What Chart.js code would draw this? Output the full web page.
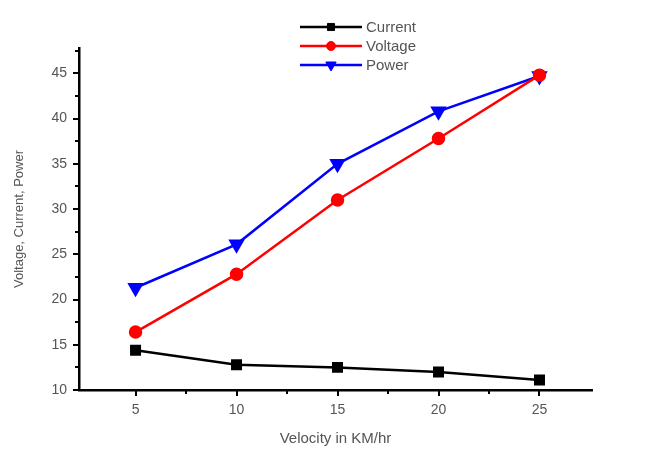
<!DOCTYPE html>
<html>
<head>
<meta charset="utf-8">
<script src="https://cdn.jsdelivr.net/npm/chart.js@4.4.0/dist/chart.umd.min.js"></script>
<style>
  html, body { margin: 0; padding: 0; background: #fff; }
  #wrap { width: 663px; height: 457px; }
</style>
</head>
<body>
<div id="wrap"><canvas id="chart" width="663" height="457"></canvas></div>
<script>
// values
var velocity = [5, 10, 15, 20, 25];
var current  = [14.4, 12.8, 12.5, 12.0, 11.1];
var voltage  = [16.4, 22.8, 31.0, 37.8, 44.8];
var power    = [21.3, 26.1, 35.0, 40.8, 44.7];

var xMajor = [5, 10, 15, 20, 25];
var xMinor = [7.5, 12.5, 17.5, 22.5];
var yMajor = [10, 15, 20, 25, 30, 35, 40, 45];
var yMinor = [12.5, 17.5, 22.5, 27.5, 32.5, 37.5, 42.5, 47.5];

var grey = '#555';
var fontFam = '"Liberation Sans", Arial, sans-serif';

function pts(arr){
	return velocity.map(function(v, i){ return { x: v, y: arr[i] }; });
}

// little tick marks, outward, major longer than minor
var tickMarks = {
	id: 'tickMarks',
	afterDraw: function(chart){
		var ctx = chart.ctx;
		var xs = chart.scales.x, ys = chart.scales.y;
		var area = chart.chartArea;
		ctx.save();
		ctx.strokeStyle = '#000';
		ctx.lineWidth = 2;
		ctx.beginPath();
		xMajor.forEach(function(v){
			var px = Math.round(xs.getPixelForValue(v));
			ctx.moveTo(px, area.bottom); ctx.lineTo(px, area.bottom + 6);
		});
		xMinor.forEach(function(v){
			var px = Math.round(xs.getPixelForValue(v));
			ctx.moveTo(px, area.bottom); ctx.lineTo(px, area.bottom + 4);
		});
		yMajor.forEach(function(v){
			var py = Math.round(ys.getPixelForValue(v));
			ctx.moveTo(area.left, py); ctx.lineTo(area.left - 6, py);
		});
		yMinor.forEach(function(v){
			var py = Math.round(ys.getPixelForValue(v));
			ctx.moveTo(area.left, py); ctx.lineTo(area.left - 4, py);
		});
		ctx.stroke();
		ctx.restore();
	}
};

// legend stacked in a column: line + marker, then the name
var columnLegend = {
	id: 'columnLegend',
	afterDraw: function(chart){
		var ctx = chart.ctx;
		ctx.save();
		chart.data.datasets.forEach(function(ds, i){
			var y = 27 + i * 19;
			var x0 = 300, x1 = 362, xm = 331;
			ctx.strokeStyle = ds.borderColor;
			ctx.fillStyle = ds.borderColor;
			ctx.lineWidth = 2.5;
			ctx.beginPath(); ctx.moveTo(x0, y); ctx.lineTo(x1, y); ctx.stroke();
			ctx.lineWidth = 1;
			Chart.helpers.drawPoint(ctx, {
				pointStyle: ds.pointStyle,
				radius: ds.pointRadius - 1,
				rotation: ds.pointRotation || 0,
				borderWidth: 1
			}, xm, y);
			ctx.fillStyle = grey;
			ctx.font = '15px ' + fontFam;
			ctx.textBaseline = 'middle';
			ctx.textAlign = 'left';
			ctx.fillText(ds.label, 366, y + 1);
		});
		ctx.restore();
	}
};

function ds(label, arr, color, style, radius, rot){
	return {
		label: label,
		data: pts(arr),
		borderColor: color,
		backgroundColor: color,
		pointBackgroundColor: color,
		pointBorderColor: color,
		borderWidth: 2.5,
		pointStyle: style,
		pointRadius: radius,
		pointRotation: rot || 0,
		pointHoverRadius: radius,
		tension: 0
	};
}

var chart_line_settings = {
	type: 'line',
	data: {
		datasets: [
			ds('Current', current, '#000000', 'rect', 6),
			ds('Voltage', voltage, '#ff0000', 'circle', 5.5),
			ds('Power',   power,   '#0000ff', 'triangle', 7, 180)
		]
	},
	options: {
		responsive: false,
		animation: false,
		layout: { padding: { top: 48, right: 71, left: 0, bottom: 0 } },
		plugins: {
			legend: { display: false },
			tooltip: { enabled: false }
		},
		scales: {
			x: {
				type: 'linear',
				min: 2.2,
				max: 27.6,
				afterBuildTicks: function(s){ s.ticks = xMajor.map(function(v){ return { value: v }; }); },
				afterFit: function(s){ s.height = 67; },
				grid: { display: false, drawTicks: false },
				border: { display: true, color: '#000', width: 2.5 },
				ticks: { color: grey, padding: 12, font: { size: 14, family: fontFam }, maxRotation: 0 },
				title: { display: true, text: 'Velocity in KM/hr', color: grey, padding: { top: 0, bottom: 9 }, font: { size: 15, family: fontFam } }
			},
			y: {
				type: 'linear',
				min: 10,
				max: 47.8,
				afterBuildTicks: function(s){ s.ticks = yMajor.map(function(v){ return { value: v }; }); },
				afterFit: function(s){ s.width = 79; },
				grid: { display: false, drawTicks: false },
				border: { display: true, color: '#000', width: 2.5 },
				ticks: { color: grey, padding: 12, font: { size: 14, family: fontFam } },
				title: { display: true, text: 'Voltage, Current, Power', color: grey, padding: { top: 12, bottom: 0 }, font: { size: 13, family: fontFam } }
			}
		}
	},
	plugins: [tickMarks, columnLegend]
};

var chart_line = new Chart(document.getElementById('chart'), chart_line_settings);
</script>
</body>
</html>
